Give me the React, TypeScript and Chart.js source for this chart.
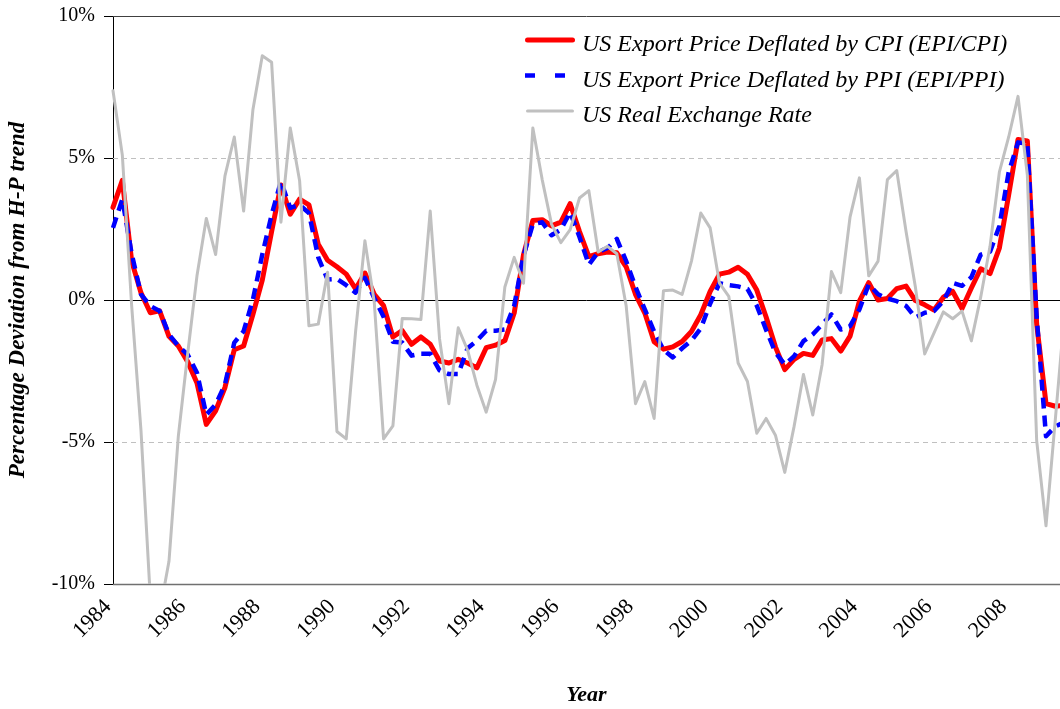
import React, { useEffect, useRef } from 'react';
import { Chart, registerables } from 'chart.js';

Chart.register(...registerables);

const START_YEAR = 1984;
const tickYears = [1984, 1986, 1988, 1990, 1992, 1994, 1996, 1998, 2000, 2002, 2004, 2006, 2008];
const yTickValues = [-10, -5, 0, 5, 10];
const seriesLabels = [
  'US Export Price Deflated by CPI (EPI/CPI)',
  'US Export Price Deflated by PPI (EPI/PPI)',
  'US Real Exchange Rate',
];

// quarterly, 1984Q1 ...
const epiCpi = [
  3.26, 4.21, 1.37, 0.25, -0.45, -0.38, -1.28, -1.62, -2.17, -2.92,
  -4.38, -3.9, -3.08, -1.75, -1.62, -0.5, 0.7, 2.41, 4.05, 3.02,
  3.55, 3.35, 1.96, 1.4, 1.17, 0.91, 0.39, 0.95, 0.2, -0.2,
  -1.3, -1.08, -1.56, -1.3, -1.56, -2.15, -2.22, -2.09, -2.22, -2.39,
  -1.68, -1.59, -1.43, -0.46, 1.6, 2.8, 2.83, 2.61, 2.74, 3.39,
  2.41, 1.53, 1.63, 1.69, 1.66, 1.17, 0.2, -0.46, -1.47, -1.73,
  -1.65, -1.46, -1.11, -0.52, 0.3, 0.91, 0.98, 1.15, 0.91, 0.35,
  -0.6, -1.65, -2.45, -2.09, -1.88, -1.95, -1.41, -1.36, -1.8, -1.27,
  -0.04, 0.61, 0.0, 0.05, 0.4, 0.49, -0.02, -0.17, -0.35, 0.1,
  0.3, -0.3, 0.42, 1.1, 0.93, 1.83, 3.7, 5.65, 5.6, -0.85,
  -3.65, -3.74, -3.7,
];

const epiPpi = [
  2.54, 3.55, 1.63, 0.2, -0.21, -0.39, -1.21, -1.62, -1.92, -2.56,
  -4.04, -3.68, -2.98, -1.5, -1.1, 0.02, 1.6, 3.0, 4.18, 3.24,
  3.35, 3.06, 1.5, 0.72, 0.74, 0.52, 0.26, 0.78, 0.07, -0.59,
  -1.47, -1.5, -1.96, -1.89, -1.89, -2.48, -2.61, -2.61, -1.7, -1.43,
  -1.08, -1.08, -1.04, -0.2, 1.56, 2.67, 2.74, 2.28, 2.48, 3.09,
  2.22, 1.24, 1.69, 1.83, 2.15, 1.37, 0.46, -0.33, -1.11, -1.76,
  -2.02, -1.7, -1.43, -1.0, -0.13, 0.59, 0.52, 0.48, 0.39, -0.2,
  -1.05, -1.85, -2.27, -1.98, -1.45, -1.21, -0.86, -0.51, -1.04, -0.92,
  -0.33, 0.55, 0.2, 0.05, -0.04, -0.21, -0.62, -0.45, -0.39, -0.04,
  0.6, 0.5, 0.8, 1.6, 1.7, 2.6, 4.5, 5.55, 5.5, -0.6,
  -4.8, -4.45, -4.3,
];

const realExchangeRate = [
  7.37, 5.1, -0.2, -4.6, -10.5, -11.0, -9.2, -4.8, -1.9, 0.85,
  2.87, 1.6, 4.37, 5.74, 3.13, 6.71, 8.6, 8.37, 2.74, 6.06,
  4.2, -0.91, -0.85, 0.98, -4.63, -4.89, -1.11, 2.09, -0.07, -4.89,
  -4.43, -0.65, -0.66, -0.69, 3.13, -1.37, -3.65, -0.98, -1.76, -3.0,
  -3.95, -2.8, 0.46, 1.5, 0.59, 6.06, 4.24, 2.67, 2.02, 2.48,
  3.59, 3.85, 1.69, 1.89, 1.63, -0.2, -3.65, -2.87, -4.17, 0.33,
  0.35, 0.2, 1.37, 3.06, 2.54, 0.59, 0.13, -2.22, -2.87, -4.69,
  -4.17, -4.76, -6.07, -4.45, -2.62, -4.05, -2.28, 1.0, 0.26, 2.93,
  4.3, 0.85, 1.37, 4.24, 4.56, 2.41, 0.46, -1.9, -1.16, -0.42,
  -0.66, -0.39, -1.44, 0.1, 1.89, 4.5, 5.74, 7.17, 4.4, -4.95,
  -7.95, -4.2, -0.4,
];

const SERIF = "'Liberation Serif', 'Times New Roman', serif";

const toPoints = (arr: number[]) => arr.map((v, i) => ({ x: i, y: v }));

const gridPlugin = {
  id: 'hGrid',
  beforeDatasetsDraw(chart: any) {
    const { ctx, chartArea: a, scales } = chart;
    const y = scales.y;
    ctx.save();
    for (const v of yTickValues) {
      const py = Math.round(y.getPixelForValue(v)) + 0.5;
      let color = '#c0c0c0';
      let dash: number[] = [5, 4];
      let w = 1;
      if (v === 0) { color = '#000000'; dash = []; }
      else if (v === 10) { color = '#404040'; dash = []; }
      else if (v === -10) { color = '#707070'; dash = []; w = 1.5; }
      ctx.beginPath();
      ctx.setLineDash(dash);
      ctx.lineWidth = w;
      ctx.strokeStyle = color;
      ctx.moveTo(a.left, py);
      ctx.lineTo(a.right, py);
      ctx.stroke();
    }
    ctx.restore();
  },
};

const legendDashes = [[], [10, 20], []];
const legendCaps = ['round', 'butt', 'round'];

const legendPlugin = {
  id: 'insideLegend',
  afterDatasetsDraw(chart: any) {
    const { ctx, chartArea: a } = chart;
    const x0 = a.left + 412;
    chart.data.datasets.forEach((ds: any, i: number) => {
      const yl = a.top + 24 + i * 35.5;
      ctx.save();
      ctx.strokeStyle = ds.borderColor;
      ctx.lineWidth = ds.borderWidth;
      ctx.setLineDash(legendDashes[i]);
      ctx.lineCap = legendCaps[i];
      ctx.beginPath();
      if (legendCaps[i] === 'round') {
        ctx.moveTo(x0 + 2.5, yl);
        ctx.lineTo(x0 + 47.5, yl);
      } else {
        ctx.moveTo(x0, yl);
        ctx.lineTo(x0 + 50, yl);
      }
      ctx.stroke();
      ctx.setLineDash([]);
      ctx.font = `italic 24px ${SERIF}`;
      ctx.fillStyle = '#000000';
      ctx.textBaseline = 'alphabetic';
      ctx.textAlign = 'left';
      ctx.fillText(ds.label, x0 + 57, yl + 11);
      ctx.restore();
    });
  },
};

export default function App() {
  const canvasRef = useRef<HTMLCanvasElement | null>(null);

  useEffect(() => {
    const canvas = canvasRef.current;
    if (!canvas) return;
    const chart = new Chart(canvas, {
      type: 'line',
      data: {
        datasets: [
          {
            label: seriesLabels[0],
            data: toPoints(epiCpi),
            borderColor: '#ff0000',
            borderWidth: 5,
            borderJoinStyle: 'round',
            borderCapStyle: 'round',
            pointRadius: 0,
            tension: 0,
            order: 3,
            clip: { left: 3, top: 0, right: 0, bottom: 0 },
          },
          {
            label: seriesLabels[1],
            data: toPoints(epiPpi),
            borderColor: '#0000ff',
            borderWidth: 4.5,
            borderDash: [11, 7],
            borderJoinStyle: 'round',
            borderCapStyle: 'butt',
            pointRadius: 0,
            tension: 0,
            order: 2,
            clip: { left: 3, top: 0, right: 0, bottom: 0 },
          },
          {
            label: seriesLabels[2],
            data: toPoints(realExchangeRate),
            borderColor: '#c0c0c0',
            borderWidth: 3,
            borderJoinStyle: 'round',
            borderCapStyle: 'round',
            pointRadius: 0,
            tension: 0,
            order: 1,
            clip: { left: 2, top: 0, right: 0, bottom: 0 },
          },
        ] as any,
      },
      options: {
        responsive: false,
        animation: false,
        devicePixelRatio: 1,
        layout: { padding: { top: 16, right: 0, left: 0, bottom: 0 } },
        plugins: {
          legend: { display: false },
          tooltip: { enabled: false },
          title: { display: false },
        },
        scales: {
          x: {
            type: 'linear',
            min: 0,
            max: 101.5,
            afterBuildTicks: (s: any) => {
              s.ticks = tickYears.map((yr) => ({ value: (yr - START_YEAR) * 4 }));
            },
            afterFit: (s: any) => {
              s.height = 125;
              s.paddingLeft = 0;
              s.paddingRight = 0;
            },
            grid: { display: false, drawTicks: false },
            border: { display: false },
            ticks: {
              autoSkip: false,
              minRotation: 45,
              maxRotation: 45,
              padding: 10,
              labelOffset: -5,
              color: '#000000',
              font: { family: SERIF, size: 22 },
              callback: (v: any) => String(START_YEAR + Number(v) / 4),
            },
            title: {
              display: true,
              text: 'Year',
              color: '#000000',
              font: { family: SERIF, size: 22, style: 'italic', weight: 'bold' },
              padding: { top: 0, bottom: 0 },
            },
          },
          y: {
            min: -10,
            max: 10,
            afterBuildTicks: (s: any) => {
              s.ticks = yTickValues.map((v) => ({ value: v }));
            },
            afterFit: (s: any) => {
              s.width = 113;
              s.paddingTop = 0;
              s.paddingBottom = 0;
            },
            grid: {
              drawOnChartArea: false,
              drawTicks: true,
              tickLength: 9,
              tickColor: '#000000',
              color: '#000000',
            },
            border: { display: true, color: '#000000', width: 1 },
            ticks: {
              padding: 9,
              color: '#000000',
              font: { family: SERIF, size: 20 },
              callback: (v: any) => `${v}%`,
            },
            title: {
              display: true,
              text: 'Percentage Deviation from H-P trend',
              color: '#000000',
              font: { family: SERIF, size: 23, style: 'italic', weight: 'bold' },
              padding: { top: 4, bottom: 0 },
            },
          },
        },
      } as any,
      plugins: [gridPlugin, legendPlugin],
    });
    return () => chart.destroy();
  }, []);

  return (
    <div style={{ position: 'absolute', left: 0, top: 0, width: 1060, height: 709, background: '#ffffff' }}>
      <canvas ref={canvasRef} width={1060} height={709} style={{ display: 'block', width: 1060, height: 709 }} />
    </div>
  );
}
